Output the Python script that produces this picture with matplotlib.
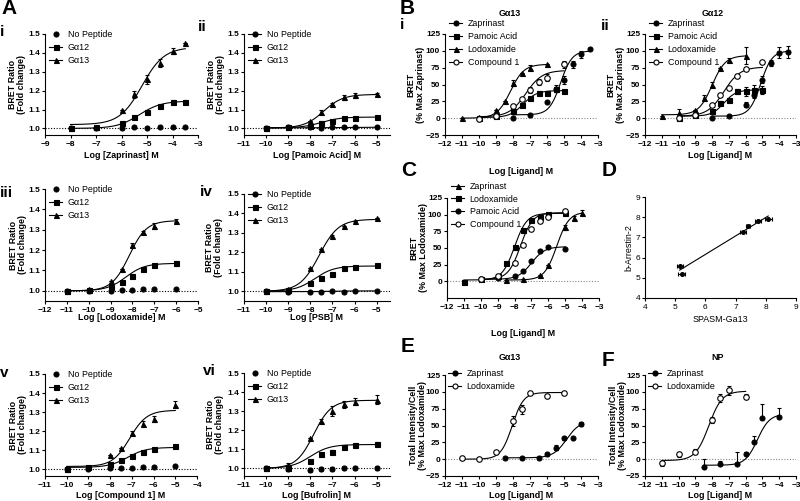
import numpy as np
import matplotlib
matplotlib.use('Agg')
import matplotlib.pyplot as plt
from matplotlib.lines import Line2D

plt.rcParams['font.family'] = ['Liberation Sans', 'DejaVu Sans']
plt.rcParams['axes.linewidth'] = 0.8
plt.rcParams['xtick.major.width'] = 0.8
plt.rcParams['ytick.major.width'] = 0.8
plt.rcParams['xtick.major.size'] = 2.5
plt.rcParams['ytick.major.size'] = 2.5
plt.rcParams['xtick.major.pad'] = 1.5
plt.rcParams['ytick.major.pad'] = 1.0

W, H = 800, 501

# ---- A: BRET ratio (fold change) ----
# i  Zaprinast
zap_x = [-8, -7, -6, -5.5, -5, -4.5, -4, -3.5]
zap_np = [1.0, 1.0, 1.0, 1.007, 1.0, 1.007, 1.006, 1.006]
zap_g12 = [1.0, 1.01, 1.03, 1.06, 1.085, 1.12, 1.14, 1.14]
zap_g13 = [1.0, 1.01, 1.10, 1.18, 1.26, 1.345, 1.41, 1.45]
zap_e12 = [0, 0.005, 0.005, 0.008, 0.006, 0.005, 0.01, 0.012]
zap_e13 = [0, 0, 0, 0.02, 0.025, 0.02, 0.015, 0]
zap_fit12 = (1.0, 1.145, -5.3, 1.0)
zap_fit13 = (1.02, 1.43, -5.2, 1.0)

# ii  Pamoic acid
pam_x = [-10, -9, -8, -7.5, -7, -6.5, -6, -5]
pam_np = [1.0, 1.005, 1.005, 1.0, 1.005, 1.005, 1.005, 1.01]
pam_g12 = [1.0, 1.005, 1.015, 1.03, 1.04, 1.057, 1.057, 1.06]
pam_g13 = [1.0, 1.007, 1.04, 1.087, 1.13, 1.165, 1.175, 1.18]
pam_e12 = [0, 0, 0, 0.008, 0, 0, 0, 0]
pam_e13 = [0, 0, 0, 0.01, 0.005, 0.012, 0.015, 0.01]
pam_fitnp = (1.003, 1.006, -7.0, 1.0)
pam_fit12 = (1.003, 1.06, -7.5, 1.0)
pam_fit13 = (1.002, 1.18, -7.4, 1.0)

# iii  Lodoxamide
lod_x = [-11, -10, -9, -8.5, -8, -7.5, -7, -6]
lod_np = [1.0, 1.0, 1.0, 1.005, 1.003, 1.007, 1.01, 1.01]
lod_g12 = [1.0, 1.005, 1.02, 1.045, 1.075, 1.105, 1.125, 1.135]
lod_g13 = [1.0, 1.01, 1.05, 1.105, 1.225, 1.29, 1.32, 1.345]
lod_e12 = [0, 0.01, 0, 0, 0, 0, 0, 0.012]
lod_e13 = [0, 0, 0, 0, 0.01, 0.005, 0.015, 0.008]
lod_fit12 = (1.0, 1.135, -8.3, 1.0)
lod_fit13 = (1.0, 1.345, -8.15, 1.1)

# iv  PSB
psb_x = [-10, -9, -8, -7.5, -7, -6.5, -6, -5]
psb_np = [1.0, 0.998, 0.997, 0.995, 1.0, 0.998, 1.0, 1.003]
psb_g12 = [1.0, 1.005, 1.045, 1.07, 1.09, 1.12, 1.125, 1.135]
psb_g13 = [1.0, 1.012, 1.12, 1.215, 1.285, 1.335, 1.36, 1.375]
psb_e12 = [0, 0, 0, 0, 0.005, 0, 0, 0]
psb_e13 = [0, 0, 0, 0, 0.005, 0, 0, 0]
psb_fitnp = (0.998, 1.002, -7.0, 1.0)
psb_fit12 = (1.0, 1.13, -7.8, 1.0)
psb_fit13 = (1.0, 1.37, -7.6, 1.0)

# v  Compound 1
c1_x = [-10, -9, -8, -7.5, -7, -6.5, -6, -5]
c1_np = [1.0, 1.0, 1.005, 1.008, 1.005, 1.01, 1.012, 1.015]
c1_g12 = [1.0, 1.01, 1.03, 1.05, 1.068, 1.09, 1.105, 1.12]
c1_g13 = [1.0, 1.01, 1.075, 1.11, 1.19, 1.24, 1.265, 1.34]
c1_e12 = [0, 0, 0, 0, 0, 0, 0, 0.005]
c1_e13 = [0, 0, 0, 0, 0.01, 0.015, 0.015, 0.02]
c1_fit12 = (1.01, 1.115, -7.2, 1.0)
c1_fit13 = (1.015, 1.31, -7.1, 1.1)

# vi  Bufrolin
buf_x = [-10, -9, -8, -7.5, -7, -6.5, -6, -5]
buf_np = [1.0, 0.995, 0.99, 0.995, 0.997, 1.0, 1.0, 1.0]
buf_g12 = [1.0, 1.0, 1.04, 1.075, 1.085, 1.11, 1.12, 1.13]
buf_g13 = [1.0, 1.02, 1.16, 1.25, 1.30, 1.335, 1.35, 1.36]
buf_enp = [0, 0.005, 0.01, 0.01, 0.01, 0.01, 0.01, 0.01]
buf_e12 = [0, 0, 0, 0.005, 0.01, 0, 0, 0.01]
buf_e13 = [0, 0.01, 0, 0.01, 0.025, 0.02, 0.02, 0.025]
buf_fit12 = (1.0, 1.125, -8.0, 1.0)
buf_fit13 = (1.0, 1.357, -7.85, 1.1)

# ---- B: BRET (% max Zaprinast) ----
lig_zap_x = [-8, -7, -6, -5.5, -5, -4.5, -4, -3.5]
lig_pam_x = [-10, -9, -8, -7.5, -7, -6.5, -6, -5.5, -5]
lig_lod_x = [-11, -10, -9, -8.5, -8, -7.5, -7, -6]
lig_c1_x = [-10, -9, -8, -7.5, -7, -6.5, -6, -5]

b13_zap = [0, 5, 24, 44, 57, 80, 95, 103]
b13_zap_e = [0, 0, 0, 5, 6, 5, 5, 0]
b13_pam = [0, 3, 10, 20, 30, 37, 38, 43, 41]
b13_pam_e = [0, 0, 0, 0, 0, 3, 3, 4, 0]
b13_lod = [0, 1, 12, 25, 52, 67, 75, 80]
b13_lod_e = [0, 0, 0, 0, 4, 0, 4, 0]
b13_c1 = [-1, 3, 18, 29, 42, 54, 60, 80]
b13_c1_e = [0, 0, 0, 0, 4, 4, 5, 5]
b13_fit = {'zap': (5, 100, -5.2, 1.3), 'pam': (1, 41, -7.4, 1.1),
           'lod': (0, 80, -8.15, 1.1), 'c1': (2, 71, -7.25, 0.9)}

b12_zap = [0, 3, 20, 35, 57, 82, 97, 98]
b12_zap_e = [0, 0, 4, 5, 5, 4, 8, 9]
b12_pam = [0, 5, 10, 22, 27, 40, 40, 42, 42]
b12_pam_e = [0, 0, 0, 3, 3, 4, 7, 7, 6]
b12_lod = [3, 8, 12, 30, 50, 75, 87, 93]
b12_lod_e = [0, 6, 0, 5, 4, 0, 3, 12]
b12_c1 = [0, 5, 20, 35, 45, 63, 73, 83]
b12_c1_e = [0, 0, 0, 0, 0, 0, 0, 0]
b12_fit = {'zap': (3, 100, -5.1, 1.3), 'pam': (3, 42, -7.3, 1.2),
           'lod': (5, 93, -8.0, 1.1), 'c1': (3, 76, -7.3, 0.9)}

# ---- C: BRET (% max Lodoxamide) ----
c_zap_x = [-8.5, -7.5, -6.5, -6, -5, -4.5, -4]
c_zap = [2, 3, 10, 25, 81, 95, 103]
c_zap_e = [0, 0, 0, 0, 4, 3, 4]
c_lod_x = [-11, -10, -9, -8.5, -8, -7.5, -7, -6.5, -6, -5]
c_lod = [-1, 3, 8, 28, 52, 77, 92, 97, 101, 103]
c_pam_x = [-10, -9, -8, -7.5, -7, -6.5, -6, -5]
c_pam = [4, 5, 8, 15, 30, 45, 51, 49]
c_c1_x = [-10, -9, -8, -7.5, -7, -6.5, -6, -5]
c_c1 = [4, 8, 28, 54, 78, 90, 97, 106]
c_fit = {'zap': (2, 104, -5.5, 1.2), 'lod': (2, 102, -8.0, 1.2),
         'pam': (3, 52, -7.0, 1.1), 'c1': (3, 103, -7.65, 1.2)}

# ---- D: pEC50 correlation ----
d_x = [5.15, 5.22, 7.25, 7.41, 7.75, 8.08]
d_y = [5.59, 5.2, 7.28, 7.57, 7.82, 7.93]
d_xe = [0.1, 0.12, 0.1, 0.08, 0.1, 0.12]

# ---- E / F: total intensity per cell ----
e_zap_x = [-8.5, -7.5, -6.5, -6, -5.5, -5, -4.5, -4]
e_zap = [2, 2, 2, 7, 17, 31, 31, 52]
e_zap_e = [0, 0, 0, 2, 4, 2, 0, 3]
e_lod_x = [-11, -10, -9, -8, -7.5, -7, -6, -5]
e_lod = [1, 0, 10, 57, 74, 98, 94, 99]
e_lod_e = [0, 0, 0, 7, 7, 0, 0, 0]
e_fit = {'zap': (2, 57, -4.85, 1.1), 'lod': (0, 99, -8.05, 1.3)}

f_zap_x = [-8.5, -7.5, -6.5, -6, -5.5, -5, -4]
f_zap = [-11, -7, -7, 7, 25, 61, 62]
f_zap_e = [11, 4, 17, 4, 10, 21, 14]
f_lod_x = [-11, -10, -9, -8, -7.5, -7, -6]
f_lod = [-6, 7, 11, 58, 91, 102, 93]
f_lod_e = [4, 4, 4, 4, 6, 6, 4]
f_fit = {'zap': (-9, 67, -5.3, 1.2), 'lod': (-2, 101, -8.2, 1.1)}

TICK_FS = 6.0
LAB_FS = 6.4
LEG_FS = 6.4


def logistic(x, p):
    bottom, top, ec50, hill = p
    return bottom + (top - bottom) / (1 + 10 ** ((ec50 - x) * hill))


def px_axes(fig, left, top, right, bottom):
    return fig.add_axes([left / W, 1 - bottom / H, (right - left) / W, (bottom - top) / H])


def style(ax, bold=True):
    ax.spines['top'].set_visible(False)
    ax.spines['right'].set_visible(False)
    ax.tick_params(labelsize=TICK_FS)
    for t in ax.get_xticklabels() + ax.get_yticklabels():
        t.set_fontweight('bold' if bold else 'normal')


def labels(fig, ax, xlabel, ylabel, xl_y, yl_x, bold=True):
    w = 'bold' if bold else 'normal'
    ax.set_xlabel(xlabel, fontsize=LAB_FS, fontweight=w)
    ax.set_ylabel(ylabel, fontsize=LAB_FS, fontweight=w, linespacing=1.05)
    ax.xaxis.label.set_va('center')
    ax.yaxis.label.set_va('center')
    pos = ax.get_position()
    ax.xaxis.set_label_coords((pos.x0 + pos.x1) / 2, 1 - xl_y / H, transform=fig.transFigure)
    ax.yaxis.set_label_coords(yl_x / W, (pos.y0 + pos.y1) / 2, transform=fig.transFigure)


def series(ax, x, y, e, fit, marker, face='black', curve=True, ms=3.6):
    x = np.array(x, dtype=float)
    if e is not None:
        ax.errorbar(x, y, yerr=e, fmt='none', ecolor='black', elinewidth=0.8,
                    capsize=1.6, capthick=0.8, zorder=3)
    ax.plot(x, y, linestyle='none', marker=marker, markersize=ms, markerfacecolor=face,
            markeredgecolor='black', markeredgewidth=0.8, zorder=4)
    if curve and fit is not None:
        xf = np.linspace(x.min(), x.max(), 300)
        ax.plot(xf, logistic(xf, fit), color='black', lw=0.8, zorder=2)


def legend(fig, ax, entries, left, top, spacing=0.45):
    handles = []
    for lab, marker, face, line in entries:
        handles.append(Line2D([], [], color='black', lw=0.8 if line else 0, marker=marker,
                              markersize=3.6, markerfacecolor=face, markeredgecolor='black',
                              markeredgewidth=0.8, label=lab))
    ax.legend(handles=handles, loc='upper left', bbox_to_anchor=(left / W, 1 - top / H),
              bbox_transform=fig.transFigure, frameon=False, fontsize=LEG_FS,
              handlelength=1.5, handletextpad=0.6, borderpad=0, borderaxespad=0,
              labelspacing=spacing)


fig = plt.figure(figsize=(8, 5.01), dpi=100)

# ---------- panel A ----------
a_panels = [
    # rect, x, np, g12, g13, e_np, e12, e13, fit_np, fit12, fit13, xlim, xticks, ylim, xlabel, roman
    ((45, 34, 198, 135), zap_x, zap_np, zap_g12, zap_g13, None, zap_e12, zap_e13, None, zap_fit12, zap_fit13,
     (-9, -3), range(-9, -2), (0.965, 1.5), 'Log [Zaprinast] M', 'i', (0, 32), 155, 17),
    ((244, 34, 390, 135), pam_x, pam_np, pam_g12, pam_g13, None, pam_e12, pam_e13, pam_fitnp, pam_fit12, pam_fit13,
     (-11, -4.4), range(-11, -4), (0.965, 1.5), 'Log [Pamoic Acid] M', 'ii', (198, 27), 155, 216),
    ((45, 189, 198, 301), lod_x, lod_np, lod_g12, lod_g13, None, lod_e12, lod_e13, None, lod_fit12, lod_fit13,
     (-12, -5), range(-12, -4), (0.95, 1.5), 'Log [Lodoxamide] M', 'iii', (0, 193), 318, 18),
    ((244, 194, 390, 301), psb_x, psb_np, psb_g12, psb_g13, None, psb_e12, psb_e13, psb_fitnp, psb_fit12, psb_fit13,
     (-11, -4.4), range(-11, -4), (0.95, 1.5), 'Log [PSB] M', 'iv', (200, 192), 318, 214),
    ((45, 374, 197, 476), c1_x, c1_np, c1_g12, c1_g13, None, c1_e12, c1_e13, None, c1_fit12, c1_fit13,
     (-11, -4), range(-11, -3), (0.965, 1.5), 'Log [Compound 1] M', 'v', (0, 373), 495, 18),
    ((244, 373, 390, 476), buf_x, buf_np, buf_g12, buf_g13, buf_enp, buf_e12, buf_e13, None, buf_fit12, buf_fit13,
     (-11, -4.4), range(-11, -4), (0.96, 1.5), 'Log [Bufrolin] M', 'vi', (203, 371), 495, 215),
]

for (rect, x, ynp, y12, y13, enp, e12, e13, fnp, f12, f13, xlim, xt, ylim, xlab, roman, rpos, xly, ylx) in a_panels:
    ax = px_axes(fig, *rect)
    ax.axhline(1.0, color='black', lw=0.8, ls=(0, (1, 1.5)), zorder=1)
    series(ax, x, ynp, enp, fnp, 'o', curve=fnp is not None)
    series(ax, x, y12, e12, f12, 's')
    series(ax, x, y13, e13, f13, '^')
    ax.set_xlim(*xlim)
    ax.set_ylim(*ylim)
    ax.set_xticks(list(xt))
    ax.set_yticks([1.0, 1.1, 1.2, 1.3, 1.4, 1.5])
    ax.set_yticklabels(['1.0', '1.1', '1.2', '1.3', '1.4', '1.5'])
    style(ax)
    labels(fig, ax, xlab, 'BRET Ratio\n(Fold change)', xly, ylx)
    legend(fig, ax, [('No Peptide', 'o', 'black', fnp is not None),
                     ('G\u03b112', 's', 'black', True),
                     ('G\u03b113', '^', 'black', True)],
           rect[0] + 4, rect[1] - 4)
    fig.text(rpos[0] / W, 1 - rpos[1] / H, roman, fontsize=11, fontweight='bold', va='center', ha='left')

fig.text(1 / W, 1 - 9 / H, 'A', fontsize=15, fontweight='bold', va='center', ha='left')

# ---------- panel B ----------
for (rect, d, fits, title, tx, roman, rpos, xly, ylx) in [
        ((445, 34, 598, 135), (b13_zap, b13_zap_e, b13_pam, b13_pam_e, b13_lod, b13_lod_e, b13_c1, b13_c1_e),
         b13_fit, 'G\u03b113', 510, 'i', (400, 25), 171, 416),
        ((645, 34, 796, 135), (b12_zap, b12_zap_e, b12_pam, b12_pam_e, b12_lod, b12_lod_e, b12_c1, b12_c1_e),
         b12_fit, 'G\u03b112', 713, 'ii', (601, 26), 155, 616)]:
    ax = px_axes(fig, *rect)
    ax.axhline(0, color='#888888', lw=0.8, ls=(0, (1, 1.5)), zorder=1)
    series(ax, lig_zap_x, d[0], d[1], fits['zap'], 'o')
    series(ax, lig_pam_x, d[2], d[3], fits['pam'], 's')
    series(ax, lig_lod_x, d[4], d[5], fits['lod'], '^')
    series(ax, lig_c1_x, d[6], d[7], fits['c1'], 'o', face='white', ms=4.0)
    ax.set_xlim(-12, -3)
    ax.set_ylim(-25, 125)
    ax.set_xticks(range(-12, -2))
    ax.set_yticks([-25, 0, 25, 50, 75, 100, 125])
    style(ax)
    labels(fig, ax, 'Log [Ligand] M', 'BRET\n(% Max Zaprinast)', xly, ylx)
    legend(fig, ax, [('Zaprinast', 'o', 'black', True), ('Pamoic Acid', 's', 'black', True),
                     ('Lodoxamide', '^', 'black', True), ('Compound 1', 'o', 'white', True)],
           rect[0] + 4, 19, spacing=0.45)
    fig.text(tx / W, 1 - 13 / H, title, fontsize=LAB_FS, fontweight='bold', ha='center', va='center')
    fig.text(rpos[0] / W, 1 - rpos[1] / H, roman, fontsize=11, fontweight='bold', va='center', ha='left')

fig.text(400 / W, 1 - 9 / H, 'B', fontsize=15, fontweight='bold', va='center', ha='left')

# ---------- panel C ----------
ax = px_axes(fig, 447, 198, 599, 298)
ax.axhline(0, color='#888888', lw=0.8, ls=(0, (1, 1.5)), zorder=1)
series(ax, c_zap_x, c_zap, c_zap_e, c_fit['zap'], '^')
series(ax, c_lod_x, c_lod, None, c_fit['lod'], 's')
series(ax, c_pam_x, c_pam, None, c_fit['pam'], 'o')
series(ax, c_c1_x, c_c1, None, c_fit['c1'], 'o', face='white', ms=4.0)
ax.set_xlim(-12, -3)
ax.set_ylim(-25, 125)
ax.set_xticks(range(-12, -2))
ax.set_yticks([0, 25, 50, 75, 100, 125])
style(ax)
labels(fig, ax, 'Log [Ligand] M', 'BRET\n(% Max Lodoxamide)', 333, 419)
legend(fig, ax, [('Zaprinast', '^', 'black', True), ('Lodoxamide', 's', 'black', True),
                 ('Pamoic Acid', 'o', 'black', True), ('Compound 1', 'o', 'white', True)],
       451, 182, spacing=0.4)
fig.text(401 / W, 1 - 171 / H, 'C', fontsize=15, fontweight='bold', va='center', ha='left')

# ---------- panel D ----------
ax = px_axes(fig, 645, 197, 796, 298)
ax.errorbar(d_x, d_y, xerr=d_xe, fmt='o', color='black', markersize=2.6, elinewidth=0.8,
            capsize=1.6, capthick=0.8)
k, b = np.polyfit(d_x, d_y, 1)
xl = np.array([min(d_x), max(d_x)])
ax.plot(xl, k * xl + b, color='black', lw=0.8)
ax.set_xlim(4, 9)
ax.set_ylim(4, 9)
ax.set_xticks(range(4, 10))
ax.set_yticks(range(4, 10))
style(ax, bold=False)
labels(fig, ax, 'SPASM-Ga13', 'b-Arrestin-2', 320, 629, bold=False)
fig.text(602 / W, 1 - 170 / H, 'D', fontsize=15, fontweight='bold', va='center', ha='left')

# ---------- panels E, F ----------
for (left, right, zx, zy, ze, lx, ly, le, fits, title, tx, letter, lpos, zap_up) in [
        (445, 598, e_zap_x, e_zap, e_zap_e, e_lod_x, e_lod, e_lod_e, e_fit, 'G\u03b113', 510, 'E', (401, 347), False),
        (645, 796, f_zap_x, f_zap, f_zap_e, f_lod_x, f_lod, f_lod_e, f_fit, 'NP', 718, 'F', (602, 360), True)]:
    ax = px_axes(fig, left, 375, right, 476)
    ax.axhline(0, color='#888888', lw=0.8, ls=(0, (1, 1.5)), zorder=1)
    zerr = [np.zeros(len(ze)), ze] if zap_up else ze
    series(ax, zx, zy, zerr, fits['zap'], 'o')
    series(ax, lx, ly, le, fits['lod'], 'o', face='white', ms=4.0)
    ax.set_xlim(-12, -3)
    ax.set_ylim(-25, 125)
    ax.set_xticks(range(-12, -2))
    ax.set_yticks([-25, 0, 25, 50, 75, 100, 125])
    style(ax)
    labels(fig, ax, 'Log [Ligand] M', 'Total Intensity/Cell\n(% Max Lodoxamide)', 495, left - 27)
    legend(fig, ax, [('Zaprinast', 'o', 'black', True), ('Lodoxamide', 'o', 'white', True)],
           left + 3, 369, spacing=0.5)
    fig.text(tx / W, 1 - 358 / H, title, fontsize=LAB_FS, fontweight='bold', ha='center', va='center')
    fig.text(lpos[0] / W, 1 - lpos[1] / H, letter, fontsize=15, fontweight='bold', va='center', ha='left')

fig.savefig('out.png', dpi=100)
